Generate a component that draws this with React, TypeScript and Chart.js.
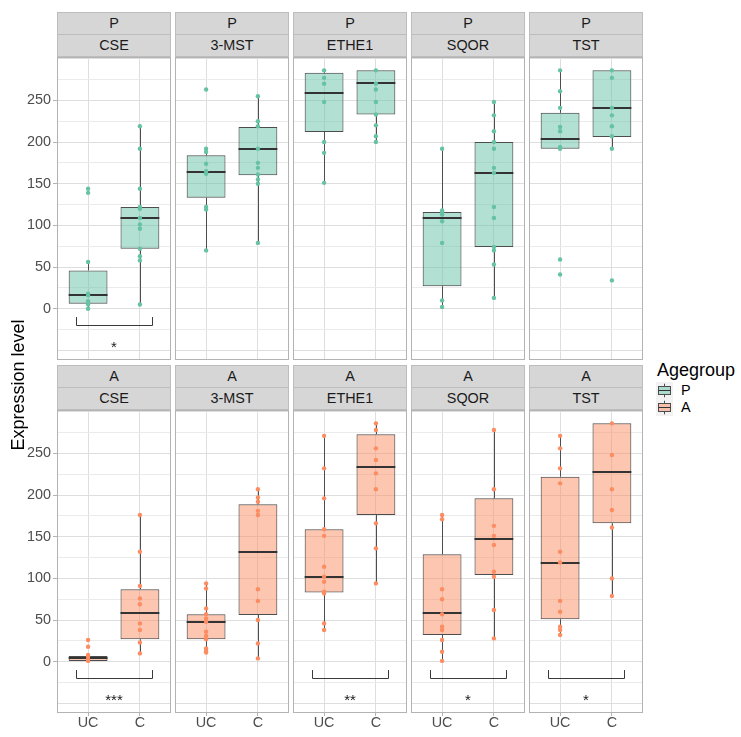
import React, { useEffect, useRef } from 'react';
import { Chart, registerables } from 'chart.js';

Chart.register(...registerables);

const FONT = '"Liberation Sans", Arial, Helvetica, sans-serif';

const GENES = ['CSE', '3-MST', 'ETHE1', 'SQOR', 'TST'];
const AGEGROUPS = ['P', 'A'];
const CONDITIONS = ['UC', 'C'];
const POINT_COLORS = ['#66C2A5', '#FC8D62'];
const BOX_FILLS = ['rgba(102,194,165,0.5)', 'rgba(252,141,98,0.5)'];

const Y_MIN = -61.5;
const Y_MAX = 302;
const Y_LABELS = [0, 50, 100, 150, 200, 250];
const Y_GRID = [-50, -25, 0, 25, 50, 75, 100, 125, 150, 175, 200, 225, 250, 275, 300];

// Individual expression values (points)
const P_CSE_UC = [144, 139, 56, 18, 16, 9, 5, 0];
const P_CSE_C = [219, 192, 144, 122, 120, 109, 101, 96, 72, 63, 58, 5];
const P_MST_UC = [263, 192, 188, 174, 165, 162, 122, 119, 70];
const P_MST_C = [255, 225, 219, 192, 175, 169, 161, 155, 150, 79];
const P_ETHE1_UC = [286, 277, 270, 248, 200, 187, 151];
const P_ETHE1_C = [286, 270, 263, 248, 233, 220, 207, 200];
const P_SQOR_UC = [192, 118, 116, 113, 105, 79, 10, 2];
const P_SQOR_C = [248, 232, 213, 200, 192, 169, 163, 122, 109, 74, 70, 53, 13];
const P_TST_UC = [286, 261, 241, 218, 213, 194, 192, 59, 41];
const P_TST_C = [286, 277, 241, 232, 219, 207, 192, 34];

const A_CSE_UC = [26, 18, 8, 6, 3, 1];
const A_CSE_C = [176, 132, 91, 76, 69, 46, 38, 23, 10];
const A_MST_UC = [94, 88, 64, 57, 52, 48, 36, 31, 27, 16, 13, 11];
const A_MST_C = [207, 197, 192, 181, 176, 87, 73, 50, 22, 4];
const A_ETHE1_UC = [271, 232, 196, 159, 151, 114, 102, 96, 84, 82, 46, 38];
const A_ETHE1_C = [286, 278, 256, 242, 226, 207, 166, 136, 94];
const A_SQOR_UC = [176, 171, 87, 75, 57, 42, 38, 26, 12, 1];
const A_SQOR_C = [278, 207, 163, 151, 140, 108, 102, 62, 28];
const A_TST_UC = [271, 256, 232, 214, 132, 119, 73, 60, 42, 38, 32];
const A_TST_C = [286, 248, 207, 182, 161, 100, 79];

// Box statistics: [lower whisker, Q1, median, Q3, upper whisker]
const P_CSE_UC_BOX = [0, 6, 16, 46, 56];
const P_CSE_C_BOX = [5, 72, 109, 122, 219];
const P_MST_UC_BOX = [70, 133, 164, 184, 192];
const P_MST_C_BOX = [79, 160, 192, 218, 255];
const P_ETHE1_UC_BOX = [151, 212, 259, 283, 286];
const P_ETHE1_C_BOX = [200, 233, 271, 286, 286];
const P_SQOR_UC_BOX = [2, 27, 109, 116, 192];
const P_SQOR_C_BOX = [13, 74, 163, 200, 248];
const P_TST_UC_BOX = [192, 192, 204, 235, 286];
const P_TST_C_BOX = [192, 206, 241, 286, 286];

const A_CSE_UC_BOX = [0.5, 1, 4, 7, 8];
const A_CSE_C_BOX = [10, 27, 58, 87, 176];
const A_MST_UC_BOX = [11, 27, 48, 57, 94];
const A_MST_C_BOX = [4, 56, 132, 189, 207];
const A_ETHE1_UC_BOX = [38, 83, 102, 159, 271];
const A_ETHE1_C_BOX = [94, 176, 234, 273, 286];
const A_SQOR_UC_BOX = [1, 32, 58, 129, 176];
const A_SQOR_C_BOX = [28, 104, 147, 196, 278];
const A_TST_UC_BOX = [32, 51, 119, 222, 271];
const A_TST_C_BOX = [79, 166, 228, 286, 286];

const SIGNIF_P = ['*', '', '', '', ''];
const SIGNIF_A = ['***', '', '**', '*', '*'];

// tables built from the arrays above
const POINTS = [
  [[P_CSE_UC, P_CSE_C], [P_MST_UC, P_MST_C], [P_ETHE1_UC, P_ETHE1_C], [P_SQOR_UC, P_SQOR_C], [P_TST_UC, P_TST_C]],
  [[A_CSE_UC, A_CSE_C], [A_MST_UC, A_MST_C], [A_ETHE1_UC, A_ETHE1_C], [A_SQOR_UC, A_SQOR_C], [A_TST_UC, A_TST_C]],
];
const BOXES = [
  [[P_CSE_UC_BOX, P_CSE_C_BOX], [P_MST_UC_BOX, P_MST_C_BOX], [P_ETHE1_UC_BOX, P_ETHE1_C_BOX], [P_SQOR_UC_BOX, P_SQOR_C_BOX], [P_TST_UC_BOX, P_TST_C_BOX]],
  [[A_CSE_UC_BOX, A_CSE_C_BOX], [A_MST_UC_BOX, A_MST_C_BOX], [A_ETHE1_UC_BOX, A_ETHE1_C_BOX], [A_SQOR_UC_BOX, A_SQOR_C_BOX], [A_TST_UC_BOX, A_TST_C_BOX]],
];
const SIGNIF = [SIGNIF_P, SIGNIF_A];

// layout
const PANEL_LEFT0 = 57;
const PANEL_PITCH = 118;
const PANEL_W = 114;
const PLOT_H = 303;
const ROW_TOPS = [57, 410];
const STRIP_TOPS = [12, 365];
const STRIP_H = 22.5;
const Y_AXIS_W = 57;
const X_AXIS_H = 22;

function Panel({ row, col }: { row: number; col: number }) {
  const ref = useRef<HTMLCanvasElement | null>(null);
  const isLeft = col === 0;
  const isBottom = row === 1;
  const axisW = isLeft ? Y_AXIS_W : 0;
  const axisH = isBottom ? X_AXIS_H : 0;
  const left = PANEL_LEFT0 + PANEL_PITCH * col - axisW;
  const top = ROW_TOPS[row];
  const width = PANEL_W + axisW;
  const height = PLOT_H + axisH;

  useEffect(() => {
    if (!ref.current) return;
    const pts = POINTS[row][col];
    const boxes = BOXES[row][col];
    const sig = SIGNIF[row][col];
    const color = POINT_COLORS[row];
    const fill = BOX_FILLS[row];

    const scatterData: { x: number; y: number }[] = [];
    pts.forEach((arr, i) => arr.forEach((v) => scatterData.push({ x: i + 1, y: v })));
    const barData = boxes.map((b, i) => ({ x: i + 1, y: [b[1], b[3]] }));

    const plugin = {
      id: 'ggbox',
      beforeDatasetsDraw(chart: any) {
        const { ctx } = chart;
        const x = chart.scales.x;
        const y = chart.scales.y;
        ctx.save();
        ctx.strokeStyle = '#4D4D4D';
        ctx.lineWidth = 1;
        boxes.forEach((b, i) => {
          const px = Math.round(x.getPixelForValue(i + 1)) + 0.5;
          ctx.beginPath();
          ctx.moveTo(px, y.getPixelForValue(b[3]));
          ctx.lineTo(px, y.getPixelForValue(b[4]));
          ctx.moveTo(px, y.getPixelForValue(b[1]));
          ctx.lineTo(px, y.getPixelForValue(b[0]));
          ctx.stroke();
        });
        ctx.restore();
      },
      afterDatasetDraw(chart: any, args: any) {
        if (args.index !== 0) return;
        const { ctx } = chart;
        const x = chart.scales.x;
        const y = chart.scales.y;
        ctx.save();
        ctx.strokeStyle = '#333333';
        ctx.lineWidth = 2;
        boxes.forEach((b, i) => {
          const py = Math.round(y.getPixelForValue(b[2]));
          ctx.beginPath();
          ctx.moveTo(x.getPixelForValue(i + 1 - 0.375), py);
          ctx.lineTo(x.getPixelForValue(i + 1 + 0.375), py);
          ctx.stroke();
        });
        ctx.restore();
      },
      afterDatasetsDraw(chart: any) {
        if (!sig) return;
        const { ctx } = chart;
        const x = chart.scales.x;
        const y = chart.scales.y;
        const x1 = Math.round(x.getPixelForValue(0.76)) + 0.5;
        const x2 = Math.round(x.getPixelForValue(2.24)) + 0.5;
        const yTop = y.getPixelForValue(-10);
        const yBot = Math.round(y.getPixelForValue(-20)) + 0.5;
        ctx.save();
        ctx.strokeStyle = '#3A3A3A';
        ctx.lineWidth = 1;
        ctx.beginPath();
        ctx.moveTo(x1, yTop);
        ctx.lineTo(x1, yBot);
        ctx.lineTo(x2, yBot);
        ctx.lineTo(x2, yTop);
        ctx.stroke();
        const fs = 15;
        ctx.fillStyle = '#1A1A1A';
        ctx.font = `${fs}px ${FONT}`;
        ctx.textAlign = 'center';
        ctx.textBaseline = 'alphabetic';
        ctx.fillText(sig, x.getPixelForValue(1.5), y.getPixelForValue(-42) + 0.58 * fs);
        ctx.restore();
      },
      afterDraw(chart: any) {
        const { ctx, chartArea } = chart;
        ctx.save();
        ctx.strokeStyle = '#B3B3B3';
        ctx.lineWidth = 1;
        ctx.strokeRect(
          Math.round(chartArea.left) + 0.5,
          Math.round(chartArea.top) + 0.5,
          Math.round(chartArea.right - chartArea.left) - 1,
          Math.round(chartArea.bottom - chartArea.top) - 1
        );
        ctx.restore();
      },
    };

    const chart = new Chart(ref.current, {
      type: 'scatter',
      data: {
        datasets: [
          {
            type: 'bar',
            data: barData as any,
            backgroundColor: fill,
            borderColor: '#4D4D4D',
            borderWidth: 1,
            borderSkipped: false,
            barPercentage: 0.75,
            categoryPercentage: 1,
            grouped: false,
            order: 1,
          } as any,
          {
            type: 'scatter',
            data: scatterData,
            backgroundColor: color,
            borderWidth: 0,
            pointRadius: 2.2,
            order: 0,
          } as any,
        ],
      },
      options: {
        responsive: false,
        animation: false,
        devicePixelRatio: 1,
        events: [],
        layout: { padding: 0, autoPadding: false } as any,
        plugins: { legend: { display: false }, tooltip: { enabled: false } },
        scales: {
          x: {
            type: 'linear',
            min: 0.4,
            max: 2.6,
            offset: false,
            afterBuildTicks: (s: any) => {
              s.ticks = [{ value: 1 }, { value: 2 }];
            },
            afterFit: (s: any) => {
              s.height = axisH;
              s.paddingLeft = 0;
              s.paddingRight = 0;
              s.paddingTop = 0;
              s.paddingBottom = 0;
            },
            border: { display: false },
            grid: {
              offset: false,
              color: '#DEDEDE',
              lineWidth: 1,
              drawTicks: isBottom,
              tickLength: 3,
              tickColor: '#B3B3B3',
              tickWidth: 1,
            },
            ticks: {
              display: isBottom,
              autoSkip: false,
              maxRotation: 0,
              padding: 0,
              color: '#4D4D4D',
              font: { family: FONT, size: 14.4, lineHeight: 1 },
              callback: (v: any) => CONDITIONS[Number(v) - 1] ?? '',
            },
          } as any,
          y: {
            type: 'linear',
            min: Y_MIN,
            max: Y_MAX,
            afterBuildTicks: (s: any) => {
              s.ticks = Y_GRID.map((v) => ({ value: v }));
            },
            afterFit: (s: any) => {
              s.width = axisW;
              s.paddingLeft = 0;
              s.paddingRight = 0;
              s.paddingTop = 0;
              s.paddingBottom = 0;
            },
            border: { display: false },
            grid: {
              color: (c: any) => (c.tick && c.tick.value % 50 === 0 ? '#DEDEDE' : '#EBEBEB'),
              lineWidth: 1,
              drawTicks: isLeft,
              tickLength: 4,
              tickWidth: 1,
              tickColor: (c: any) =>
                c.tick && Y_LABELS.includes(c.tick.value) ? '#B3B3B3' : 'rgba(0,0,0,0)',
            },
            ticks: {
              display: isLeft,
              autoSkip: false,
              padding: 2,
              color: '#4D4D4D',
              font: { family: FONT, size: 14.4, lineHeight: 1 },
              callback: (v: any) => (Y_LABELS.includes(Number(v)) ? String(v) : ''),
            },
          } as any,
        },
      },
      plugins: [plugin as any],
    });
    return () => chart.destroy();
  }, [row, col]);

  return (
    <canvas
      ref={ref}
      width={width}
      height={height}
      style={{ position: 'absolute', left, top, width, height }}
    />
  );
}

function Strip({ row, col }: { row: number; col: number }) {
  const left = PANEL_LEFT0 + PANEL_PITCH * col;
  const base: React.CSSProperties = {
    position: 'absolute',
    left,
    width: PANEL_W,
    height: STRIP_H,
    boxSizing: 'border-box',
    background: '#D6D6D6',
    border: '1px solid #BDBDBD',
    color: '#1A1A1A',
    fontFamily: FONT,
    fontSize: 14.4,
    lineHeight: `${STRIP_H - 2}px`,
    textAlign: 'center',
  };
  return (
    <>
      <div style={{ ...base, top: STRIP_TOPS[row] }}>{AGEGROUPS[row]}</div>
      <div style={{ ...base, top: STRIP_TOPS[row] + STRIP_H - 1, height: STRIP_H + 1 }}>{GENES[col]}</div>
    </>
  );
}

function LegendKey({ i }: { i: number }) {
  return (
    <svg width={17} height={17} style={{ position: 'absolute', left: 656, top: 381.5 + 17.5 * i }}>
      <rect x={0} y={0} width={17} height={17} fill="#F2F2F2" />
      <line x1={8.5} y1={1.7} x2={8.5} y2={4.25} stroke="#4D4D4D" strokeWidth={1} />
      <line x1={8.5} y1={12.75} x2={8.5} y2={15.3} stroke="#4D4D4D" strokeWidth={1} />
      <rect x={2.5} y={4.5} width={12} height={8} fill={BOX_FILLS[i]} stroke="#4D4D4D" strokeWidth={1} />
      <line x1={2.5} y1={8.5} x2={14.5} y2={8.5} stroke="#333" strokeWidth={1} />
    </svg>
  );
}

export default function App() {
  const cells: JSX.Element[] = [];
  for (let r = 0; r < 2; r++) {
    for (let c = 0; c < 5; c++) {
      cells.push(<Strip key={`s${r}${c}`} row={r} col={c} />);
      cells.push(<Panel key={`p${r}${c}`} row={r} col={c} />);
    }
  }
  return (
    <div
      style={{
        position: 'absolute',
        left: 0,
        top: 0,
        width: 741,
        height: 737,
        background: '#FFFFFF',
        overflow: 'hidden',
        fontFamily: FONT,
      }}
    >
      {cells}
      <div
        style={{
          position: 'absolute',
          left: 18 - 150,
          top: 384.5 - 11,
          width: 300,
          height: 22,
          lineHeight: '22px',
          fontSize: 18,
          textAlign: 'center',
          color: '#000',
          transform: 'rotate(-90deg)',
          whiteSpace: 'nowrap',
        }}
      >
        Expression level
      </div>
      <div style={{ position: 'absolute', left: 657, top: 361, fontSize: 18, lineHeight: '18px', color: '#000' }}>
        Agegroup
      </div>
      {AGEGROUPS.map((g, i) => (
        <React.Fragment key={g}>
          <LegendKey i={i} />
          <div
            style={{
              position: 'absolute',
              left: 681,
              top: 381.5 + 17.5 * i,
              height: 17,
              lineHeight: '17px',
              fontSize: 14.4,
              color: '#000',
            }}
          >
            {g}
          </div>
        </React.Fragment>
      ))}
    </div>
  );
}
